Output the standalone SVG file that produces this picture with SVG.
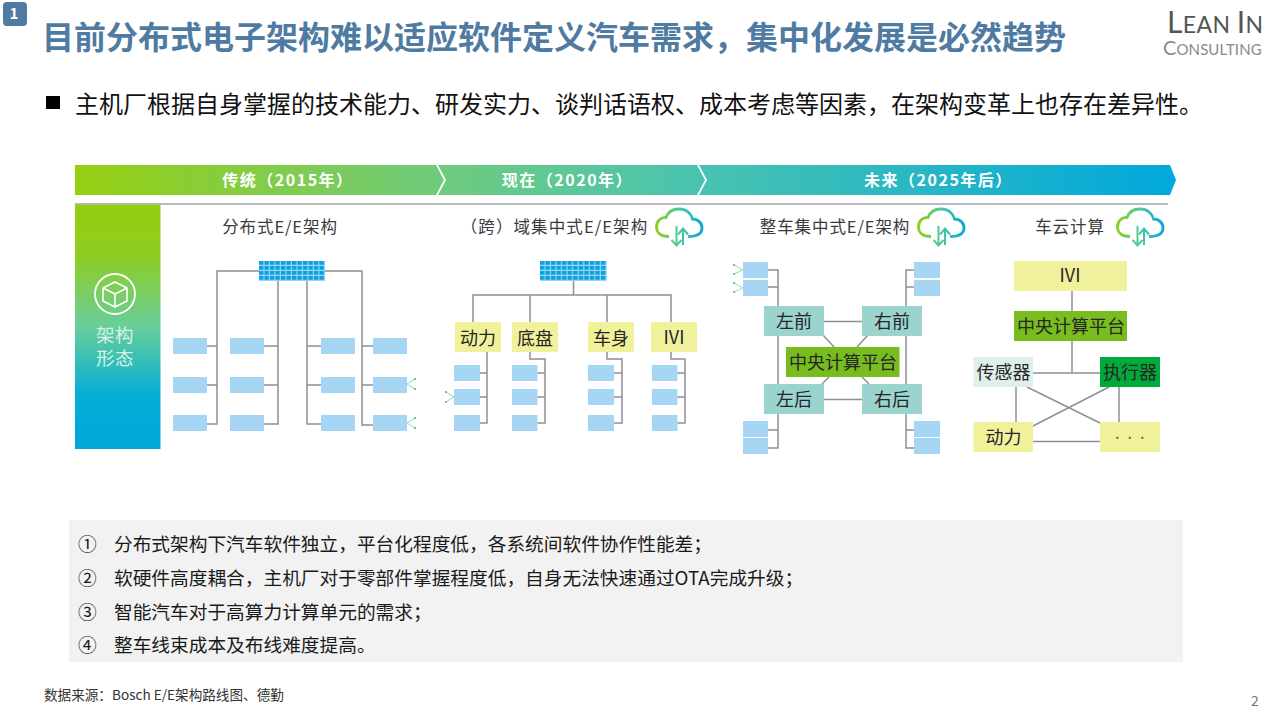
<svg xmlns="http://www.w3.org/2000/svg" width="1280" height="720" viewBox="0 0 1280 720">
<style>
text{font-family:"Noto Sans CJK SC","Noto Sans",sans-serif}
.ecu{fill:#a6d6f4}
.grid{fill:url(#gridP)}
.yl{fill:#f1f09b}
.tl{fill:#9bd3ce}
.gn{fill:#78bc1e}
.conn{fill:none;stroke:#8f8f96;stroke-width:1.5}
.lb{font-size:18px;fill:#262626;text-anchor:middle}
.hd{font-size:16.5px;fill:#3a3a3a;text-anchor:middle;letter-spacing:.9px}
.band{font-size:16px;font-weight:700;fill:#fff;text-anchor:middle;letter-spacing:1.5px}
.note{font-size:18.7px;fill:#1a1a1a}
.hdl{fill:none;stroke:#8fdcae;stroke-width:1}
.dot{fill:#3dbb6b}
</style>
<defs>
<linearGradient id="bandG" gradientUnits="userSpaceOnUse" x1="75" y1="0" x2="1176" y2="0"><stop offset="0" stop-color="#97ce10"/><stop offset=".33" stop-color="#6fcb7c"/><stop offset=".55" stop-color="#4cc4ae"/><stop offset="1" stop-color="#00a8dc"/></linearGradient>
<linearGradient id="sideG" x1="0" y1="0" x2="0" y2="1"><stop offset="0" stop-color="#94ce12"/><stop offset=".2" stop-color="#90cd20"/><stop offset=".5" stop-color="#68ce9a"/><stop offset=".78" stop-color="#04aed6"/><stop offset="1" stop-color="#00a6d8"/></linearGradient>
<linearGradient id="cloudG" gradientUnits="userSpaceOnUse" x1="656" y1="0" x2="702" y2="0"><stop offset="0" stop-color="#8fce1c"/><stop offset=".5" stop-color="#4cc9a2"/><stop offset="1" stop-color="#0aa8d8"/></linearGradient>
<pattern id="gridP" patternUnits="objectBoundingBox" width=".0833333" height=".25" patternContentUnits="userSpaceOnUse"><rect width="5.5" height="5" fill="#08a2e2"/><path d="M4.9 0V5M0 4.4H5.5" stroke="#9ad6f4" stroke-width="1.1"/></pattern>
<g id="cloud" fill="none" stroke="url(#cloudG)" stroke-width="2.8">
<path d="M669 236.500C660 236.500 656.500 232 656.500 227C656.500 221 661 217 666 217.500C668 212 673 209 679 209C686 209 691 213 692.500 219C698 219 702 223 702 228C702 233 698 236.500 688 236.500"/>
<path d="M676.500 226V245M671.500 240L676.500 245.500L681.500 240" stroke-width="2"/>
<path d="M683 245V229M678 234.500L683 228.500L688 234.500" stroke-width="2"/>
</g>
</defs>

<rect width="1280" height="720" fill="#fff"/>

<g id="badge"><rect x="3" y="2" width="24" height="24" rx="4" fill="#4f7ba2"/><text x="14" y="19" font-size="15" font-weight="700" fill="#fff" text-anchor="middle">1</text></g>
<text id="title" x="42" y="49" font-size="32" font-weight="700" fill="#4f7ba2">目前分布式电子架构难以适应软件定义汽车需求，集中化发展是必然趋势</text>
<g id="logo" fill="#555">
<text x="1167" y="33" style="font-family:Lato,sans-serif" font-size="23" letter-spacing=".4"><tspan font-size="30">L</tspan>EAN <tspan font-size="30">I</tspan>N</text>
<text x="1163" y="55" style="font-family:Lato,sans-serif" font-size="15" letter-spacing=".1" fill="#8a8a8a"><tspan font-size="20">C</tspan>ONSULTING</text>
</g>
<rect id="bullet" x="46" y="96" width="14" height="13" fill="#000"/>
<text id="lead" x="75" y="113" font-size="24" fill="#111">主机厂根据自身掌握的技术能力、研发实力、谈判话语权、成本考虑等因素，在架构变革上也存在差异性。</text>

<g id="timeline">
<polygon points="75,165 436,165 444,180 436,195 75,195" fill="url(#bandG)"/>
<polygon points="438,165 697,165 705,180 697,195 438,195 446,180" fill="url(#bandG)"/>
<polygon points="699,165 1170,165 1176,180 1170,195 699,195 707,180" fill="url(#bandG)"/>
<text class="band" x="288" y="186">传统（2015年）</text>
<text class="band" x="567.500" y="186">现在（2020年）</text>
<text class="band" x="938.500" y="186">未来（2025年后）</text>
</g>
<line x1="75" y1="204" x2="1168" y2="204" stroke="#a5a5a5" stroke-width="1.5"/>

<g id="side-panel">
<rect x="75" y="204.500" width="85.500" height="244.500" fill="url(#sideG)"/>
<circle cx="115" cy="294" r="20" fill="none" stroke="#fff" stroke-width="1.8"/>
<path d="M115 282L127 288V301L115 307L103 301V288ZM103 288L115 294L127 288M115 294V307" fill="none" stroke="#fff" stroke-width="1.6" stroke-linejoin="round"/>
<text x="115" y="342" font-size="18.500" fill="#d8f3e4" text-anchor="middle" letter-spacing=".5">架构</text>
<text x="115" y="365" font-size="18.500" fill="#d8f3e4" text-anchor="middle" letter-spacing=".5">形态</text>
</g>

<g id="connectors" class="conn">
<!-- distributed -->
<path d="M259 271H217V424H207M207 346H217M207 385H217"/>
<path d="M325 271H362V425H373M362 346H373M362 385H373"/>
<path d="M278 281V424H264M264 346H278M264 385H278"/>
<path d="M307 281V424H321M321 346H307M321 385H307"/>
<!-- domain -->
<path d="M573.500 281V295M473 322V295H671V322M530 295V322M607 295V322"/>
<path d="M487 352V423H480M480 373H487M480 397H487"/>
<path d="M530 352V359H545V423H537M537 373H545M537 397H545"/>
<path d="M607 352V359H622V423H614M614 373H622M614 397H622"/>
<path d="M671 352V359H685V423H677M677 373H685M677 397H685"/>
<!-- vehicle -->
<path d="M768 270H778V448H768M768 287H778M768 430H778"/>
<path d="M914 270H906V448H914M914 287H906M914 430H906"/>
<path d="M824 321.500H862M824 399.500H862M823 335L834 347M868 335L857 347M829 377L822 384M862 377L869 384"/>
<!-- cloud -->
<path d="M1072 291V311M1072 341V373M1033 373H1100"/>
<path d="M1016 387V422M1119 387V422M1027 387L1100 423M1109 387L1033 426M1033 441.500H1100"/>
</g>

<g id="handles">
<path class="hdl" d="M407 384L415 379M407 384L415 389M407 423L415 418M407 423L415 428M454 397L446 392M454 397L446 402M743 270L734 265M743 270L734 274M743 288L734 283M743 288L734 292"/>
<g class="dot"><circle cx="415" cy="379" r="1"/><circle cx="415" cy="389" r="1"/><circle cx="415" cy="418" r="1"/><circle cx="415" cy="428" r="1"/><circle cx="446" cy="392" r="1"/><circle cx="446" cy="402" r="1"/><circle cx="734" cy="265" r="1"/><circle cx="734" cy="274" r="1"/><circle cx="734" cy="283" r="1"/><circle cx="734" cy="292" r="1"/></g>
</g>

<g id="arch-distributed">
<text class="hd" x="280" y="233">分布式E/E架构</text>
<g id="d-central"><rect class="grid" x="259" y="261" width="66" height="20"/></g>
<g id="d-ecus" class="ecu">
<rect x="173" y="338" width="34" height="16"/><rect x="173" y="377" width="34" height="16"/><rect x="173" y="415" width="34" height="16"/>
<rect x="230" y="338" width="34" height="16"/><rect x="230" y="377" width="34" height="16"/><rect x="230" y="415" width="34" height="16"/>
<rect x="321" y="338" width="34" height="16"/><rect x="321" y="377" width="34" height="16"/><rect x="321" y="415" width="34" height="16"/>
<rect x="373" y="338" width="34" height="16"/><rect x="373" y="377" width="34" height="16"/><rect x="373" y="415" width="34" height="16"/>
</g>
</g>

<g id="arch-domain">
<text class="hd" x="554.500" y="233" style="letter-spacing:1.1px">（跨）域集中式E/E架构</text>
<use href="#cloud"/>
<g id="m-central"><rect class="grid" x="540" y="261" width="66.500" height="20"/></g>
<g id="m-power"><rect class="yl" x="455" y="322" width="46" height="30"/><text class="lb" x="478" y="345">动力</text></g>
<g id="m-chassis"><rect class="yl" x="512" y="322" width="46" height="30"/><text class="lb" x="535" y="345">底盘</text></g>
<g id="m-body"><rect class="yl" x="588" y="322" width="46" height="30"/><text class="lb" x="611" y="345">车身</text></g>
<g id="m-ivi"><rect class="yl" x="651" y="322" width="46" height="30"/><text class="lb" x="674" y="344">IVI</text></g>
<g id="m-ecus" class="ecu">
<rect x="454" y="365" width="26" height="16"/><rect x="454" y="389" width="26" height="16"/><rect x="454" y="415" width="26" height="16"/>
<rect x="512" y="365" width="25.500" height="16"/><rect x="512" y="389" width="25.500" height="16"/><rect x="512" y="415" width="25.500" height="16"/>
<rect x="588" y="365" width="26" height="16"/><rect x="588" y="389" width="26" height="16"/><rect x="588" y="415" width="26" height="16"/>
<rect x="652" y="365" width="25.500" height="16"/><rect x="652" y="389" width="25.500" height="16"/><rect x="652" y="415" width="25.500" height="16"/>
</g>
</g>

<g id="arch-vehicle">
<text class="hd" x="835" y="233">整车集中式E/E架构</text>
<use href="#cloud" x="262"/>
<g id="v-ecus" class="ecu">
<rect x="743" y="262" width="25" height="16"/><rect x="743" y="280" width="25" height="16"/><rect x="743" y="421" width="25" height="16"/><rect x="743" y="438" width="25" height="16"/>
<rect x="914" y="262" width="26" height="16"/><rect x="914" y="280" width="26" height="16"/><rect x="914" y="421" width="26" height="16"/><rect x="914" y="438" width="26" height="16"/>
</g>
<g id="v-fl"><rect class="tl" x="764" y="306" width="60" height="30"/><text class="lb" x="794" y="328">左前</text></g>
<g id="v-fr"><rect class="tl" x="862" y="306" width="60" height="30"/><text class="lb" x="892" y="328">右前</text></g>
<g id="v-rl"><rect class="tl" x="764" y="384" width="60" height="30"/><text class="lb" x="794" y="406">左后</text></g>
<g id="v-rr"><rect class="tl" x="862" y="384" width="60" height="30"/><text class="lb" x="892" y="406">右后</text></g>
<g id="v-central"><rect class="gn" x="786" y="347" width="113.500" height="30"/><text class="lb" x="843" y="369">中央计算平台</text></g>
</g>

<g id="arch-cloud">
<text class="hd" x="1070" y="233">车云计算</text>
<use href="#cloud" x="461"/>
<g id="c-ivi"><rect class="yl" x="1014" y="261" width="113" height="30"/><text class="lb" x="1070" y="282">IVI</text></g>
<g id="c-central"><rect class="gn" x="1014" y="311" width="113" height="30"/><text class="lb" x="1071" y="333">中央计算平台</text></g>
<g id="c-sensor"><rect x="973.500" y="357" width="59.500" height="30" fill="#e0efea"/><text class="lb" x="1003.500" y="379">传感器</text></g>
<g id="c-actuator"><rect x="1100" y="357" width="60" height="30" fill="#00a93c"/><text class="lb" x="1130" y="379">执行器</text></g>
<g id="c-power"><rect class="yl" x="973.500" y="422" width="59.500" height="30"/><text class="lb" x="1003.500" y="444">动力</text></g>
<g id="c-more"><rect class="yl" x="1100" y="422" width="60" height="30"/><text x="1130.500" y="442" font-size="11" fill="#666" text-anchor="middle" letter-spacing="1.500">···</text></g>
</g>

<g id="notes">
<rect x="69" y="520" width="1114" height="142" fill="#f2f2f2"/>
<text class="note" x="78" y="551">①</text><text class="note" x="114" y="551">分布式架构下汽车软件独立，平台化程度低，各系统间软件协作性能差；</text>
<text class="note" x="78" y="585">②</text><text class="note" x="114" y="585">软硬件高度耦合，主机厂对于零部件掌握程度低，自身无法快速通过OTA完成升级；</text>
<text class="note" x="78" y="619">③</text><text class="note" x="114" y="619">智能汽车对于高算力计算单元的需求；</text>
<text class="note" x="78" y="652">④</text><text class="note" x="114" y="652">整车线束成本及布线难度提高。</text>
</g>
<text id="source" x="44" y="700" font-size="13.600" fill="#333">数据来源：Bosch E/E架构路线图、德勤</text>
<text id="page" x="1251" y="706" font-size="14" fill="#777">2</text>
</svg>
